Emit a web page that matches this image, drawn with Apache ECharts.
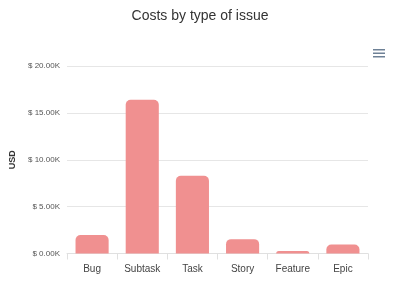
<!DOCTYPE html>
<html><head><meta charset="utf-8">
<script src="https://cdn.jsdelivr.net/npm/echarts@6/dist/echarts.min.js"></script>
<style>html,body{margin:0;padding:0;background:#fff}#c{width:400px;height:302px}</style>
</head><body><div id="c"></div>
<script>
const categories = ['Bug','Subtask','Task','Story','Feature','Epic'];
const costs = [1980, 16400, 8290, 1530, 270, 950];
const yTicks = [0, 5000, 10000, 15000, 20000];

const chart = echarts.init(document.getElementById('c'));
chart.setOption({
  animation: false,
  title: {text: 'Costs by type of issue', left: 'center', top: 4,
    textStyle: {fontSize: 14, fontWeight: 'normal', color: '#333', fontFamily: 'Liberation Sans, Arial, sans-serif'}},
  graphic: [
    {type: 'rect', right: 15, top: 49, shape: {width: 12, height: 1.5}, style: {fill: '#6e8196'}},
    {type: 'rect', right: 15, top: 52.5, shape: {width: 12, height: 1.5}, style: {fill: '#6e8196'}},
    {type: 'rect', right: 15, top: 56, shape: {width: 12, height: 1.5}, style: {fill: '#6e8196'}}
  ],
  grid: {left: 67, right: 32, top: 66, bottom: 48.5},
  xAxis: {type: 'category', data: categories,
    axisLine: {lineStyle: {color: '#e0e0e0'}},
    axisTick: {show: true, length: 6, lineStyle: {color: '#e0e0e0'}},
    axisLabel: {color: '#444', fontSize: 10, margin: 11, fontFamily: 'Liberation Sans, Arial, sans-serif'}},
  yAxis: {type: 'value', min: yTicks[0], max: yTicks[yTicks.length-1], interval: 5000,
    name: 'USD', nameLocation: 'middle', nameGap: 47, nameRotate: 90,
    nameTextStyle: {fontSize: 9, fontWeight: 'bold', color: '#333', fontFamily: 'Liberation Sans, Arial, sans-serif'},
    axisLine: {show: false}, axisTick: {show: false},
    splitLine: {lineStyle: {color: '#e6e6e6'}},
    axisLabel: {color: '#555', fontSize: 8, margin: 7, fontFamily: 'Liberation Sans, Arial, sans-serif',
      formatter: v => '$ ' + (v/1000).toFixed(2) + 'K'}},
  series: [{type: 'bar', data: costs, barWidth: '66%',
    itemStyle: {color: '#f09090', borderRadius: [5,5,0,0]}}]
});
</script></body></html>
